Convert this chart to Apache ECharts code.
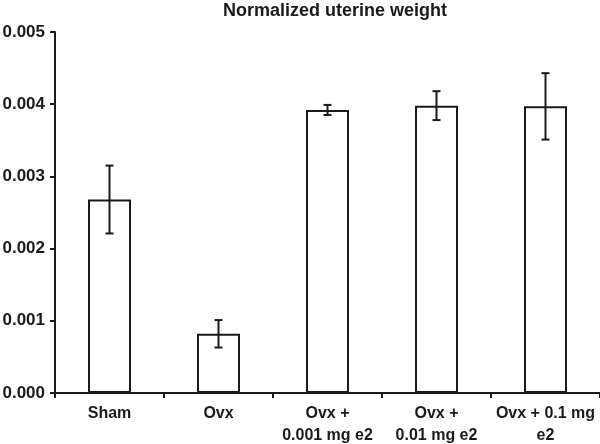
<!DOCTYPE html>
<html>
<head>
<meta charset="utf-8">
<script src="https://cdn.jsdelivr.net/npm/echarts@6/dist/echarts.min.js"></script>
<style>
html,body{margin:0;padding:0;background:#fff;}
#c{width:600px;height:444px;}
</style>
</head>
<body>
<div id="c"></div>
<script>
var categories = ['Sham', 'Ovx', 'Ovx +\n0.001 mg e2', 'Ovx +\n0.01 mg e2', 'Ovx + 0.1 mg\ne2'];
var means = [0.00268, 0.00082, 0.00392, 0.00398, 0.00397];
var errors = [0.00047, 0.00019, 0.00007, 0.00020, 0.00046];
var yTicks = { min: 0, max: 0.005, interval: 0.001 };

var FONT = '"Liberation Sans", Arial, sans-serif';
var INK = '#1a1a1a';

var errData = means.map(function (m, i) { return [i, m - errors[i], m + errors[i]]; });

var chart = echarts.init(document.getElementById('c'), null, { renderer: 'canvas' });
chart.setOption({
  animation: false,
  backgroundColor: '#fff',
  title: {
    text: 'Normalized uterine weight',
    left: 330, textAlign: 'center', top: -3,
    textStyle: { fontFamily: FONT, fontWeight: 'bold', fontSize: 18, color: INK }
  },
  grid: { left: 55, right: 0, top: 32, bottom: 51, containLabel: false, outerBoundsMode: 'none' },
  xAxis: {
    type: 'category',
    data: categories,
    boundaryGap: true,
    axisLine: { lineStyle: { color: INK, width: 2 } },
    axisTick: { show: true, length: 5, inside: false, lineStyle: { color: INK, width: 2 }, alignWithLabel: false },
    axisLabel: {
      interval: 0, margin: 10,
      fontFamily: FONT, fontWeight: 'bold', fontSize: 16, color: INK, lineHeight: 22
    },
    splitLine: { show: false }
  },
  yAxis: {
    type: 'value',
    min: yTicks.min, max: yTicks.max, interval: yTicks.interval,
    axisLine: { show: true, lineStyle: { color: INK, width: 2 } },
    axisTick: { show: true, length: 5, lineStyle: { color: INK, width: 2 } },
    axisLabel: {
      margin: 10,
      fontFamily: FONT, fontWeight: 'bold', fontSize: 17, color: INK,
      formatter: function (v) { return v.toFixed(3); }
    },
    splitLine: { show: false }
  },
  series: [
    {
      type: 'bar',
      data: means,
      barWidth: 43,
      itemStyle: { color: '#fff', borderColor: INK, borderWidth: 2 }
    },
    {
      type: 'custom',
      data: errData,
      z: 10,
      renderItem: function (params, api) {
        var x = api.value(0);
        var lo = api.coord([x, api.value(1)]);
        var hi = api.coord([x, api.value(2)]);
        var cap = 4;
        var style = { stroke: INK, lineWidth: 2 };
        return {
          type: 'group',
          children: [
            { type: 'line', shape: { x1: lo[0], y1: lo[1], x2: hi[0], y2: hi[1] }, style: style },
            { type: 'line', shape: { x1: lo[0] - cap, y1: lo[1], x2: lo[0] + cap, y2: lo[1] }, style: style },
            { type: 'line', shape: { x1: hi[0] - cap, y1: hi[1], x2: hi[0] + cap, y2: hi[1] }, style: style }
          ]
        };
      }
    }
  ]
});
</script>
</body>
</html>
